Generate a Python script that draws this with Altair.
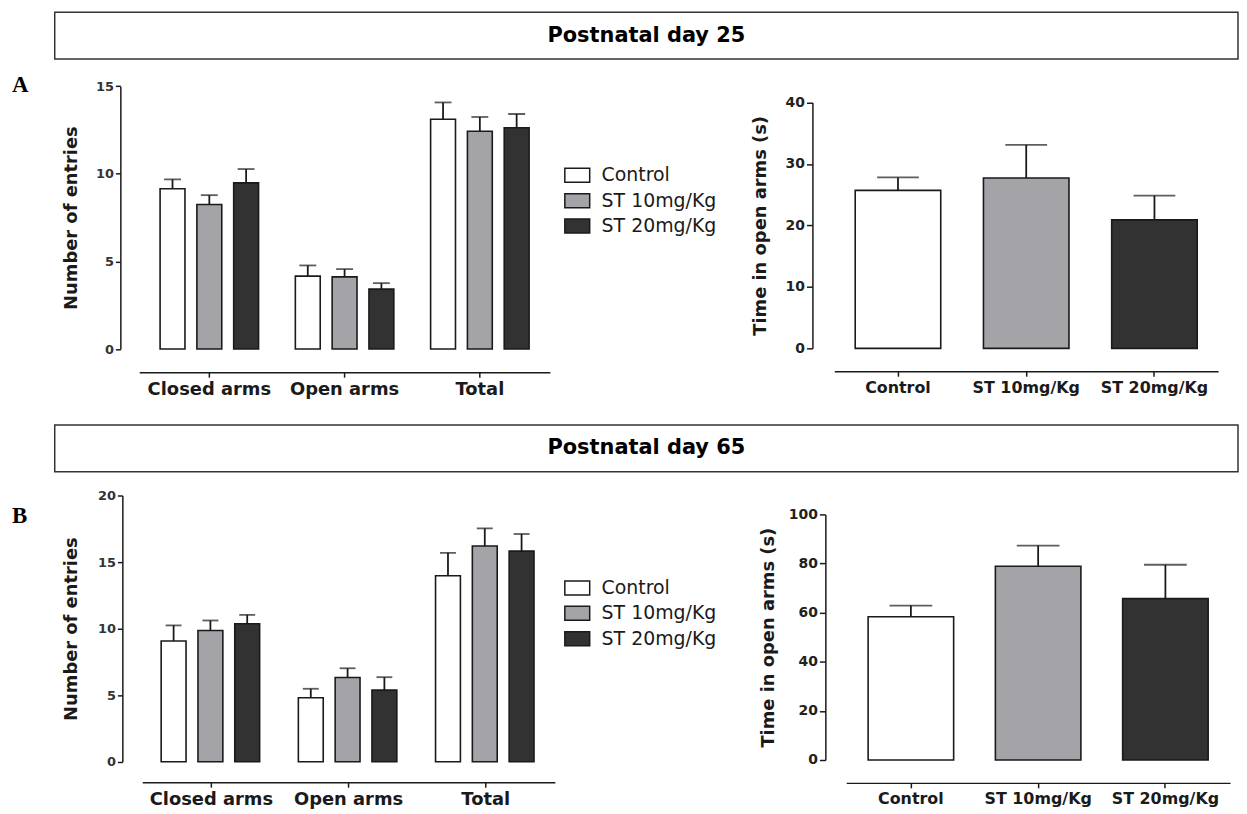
import altair as alt
import pandas as pd

# ---------------- data ----------------
measures = ["Closed arms", "Open arms", "Total"]
groups = ["Control", "ST 10mg/Kg", "ST 20mg/Kg"]
group_colors = ["#ffffff", "#a3a3a8", "#323232"]

titles = ["Postnatal day 25", "Postnatal day 65"]
panels = ["A", "B"]

# number of entries (mean, SEM), order: measure-major, group-minor
p25_entries_mean = [9.15, 8.25, 9.48, 4.16, 4.12, 3.42, 13.11, 12.43, 12.63]
p25_entries_sem = [0.53, 0.53, 0.79, 0.61, 0.44, 0.34, 0.96, 0.81, 0.78]
p65_entries_mean = [9.07, 9.86, 10.36, 4.81, 6.33, 5.38, 13.97, 16.21, 15.82]
p65_entries_sem = [1.17, 0.75, 0.67, 0.67, 0.69, 0.97, 1.72, 1.32, 1.29]

# time in open arms (mean, SEM)
p25_time_mean = [25.7, 27.7, 20.9]
p25_time_sem = [2.1, 5.4, 3.95]
p65_time_mean = [58.3, 78.9, 65.7]
p65_time_sem = [4.6, 8.4, 13.8]

p25_entries_ticks = [0, 5, 10, 15]
p25_time_ticks = [0, 10, 20, 30, 40]
p65_entries_ticks = [0, 5, 10, 15, 20]
p65_time_ticks = [0, 20, 40, 60, 80, 100]

SANS = "DejaVu Sans"
SERIF = "Liberation Serif"
INK = "#1a1a1a"


def entries_df(means, sems):
    rows = []
    i = 0
    for m in measures:
        for g in groups:
            rows.append({"measure": m, "group": g, "mean": means[i], "upper": means[i] + sems[i]})
            i += 1
    return pd.DataFrame(rows)


def time_df(means, sems):
    return pd.DataFrame({"group": groups, "mean": means,
                         "upper": [m + s for m, s in zip(means, sems)]})


def fill_enc():
    return alt.Fill("group:N", sort=groups,
                    scale=alt.Scale(domain=groups, range=group_colors), legend=None)


def header_layers(title, y0, y1, panel, panel_y):
    df = pd.DataFrame({"title": [title], "panel": [panel]})
    box = alt.Chart(df).mark_rect(fill="white", stroke="#333", strokeWidth=1.5).encode(
        x=alt.value(47), x2=alt.value(1237), y=alt.value(y0), y2=alt.value(y1))
    txt = alt.Chart(df).mark_text(align="center", baseline="middle", font=SANS,
                                  fontSize=21, fontWeight="bold", color="#000").encode(
        x=alt.value(642), y=alt.value((y0 + y1) / 2), text="title:N")
    lab = alt.Chart(df).mark_text(
        align="left", baseline="middle", font=SERIF, fontSize=23,
        fontWeight="bold", color="#000").encode(
        x=alt.value(4), y=alt.value(panel_y), text="panel:N")
    return [box, txt, lab]


def entries_chart(means, sems, ticks, x_range, pin, pout, sub_pin, y_range,
                  y_off, x_off, title_x, width, height, cap, header):
    df = entries_df(means, sems)
    yaxis = alt.Axis(values=ticks, title="Number of entries", format="d",
                     offset=y_off, titleX=title_x, titleBaseline="middle",
                     titleFontSize=18, titleFontWeight="bold", titleColor=INK,
                     labelFontSize=13, labelFontWeight="bold", labelColor="#333",
                     labelPadding=2, tickSize=5)
    yscale = alt.Scale(domain=[0, ticks[-1]], range=y_range, nice=False)
    base = alt.Chart(df).encode(
        x=alt.X("measure:N", sort=measures,
                scale=alt.Scale(range=x_range, paddingInner=pin, paddingOuter=pout),
                axis=alt.Axis(title=None, labelAngle=0, offset=x_off, tickSize=5,
                              labelFontSize=18, labelFontWeight="bold",
                              labelColor=INK, labelPadding=3)),
        xOffset=alt.XOffset("group:N", sort=groups,
                            scale=alt.Scale(paddingInner=sub_pin, paddingOuter=0)),
    )
    bars = base.mark_bar(stroke=INK, strokeWidth=1.6).encode(
        y=alt.Y("mean:Q", scale=yscale, axis=yaxis), fill=fill_enc())
    err = base.mark_rule(color=INK, strokeWidth=1.8).encode(
        y=alt.Y("mean:Q", scale=yscale, axis=yaxis), y2="upper:Q")
    caps = base.mark_tick(color=INK, size=cap, thickness=1.8).encode(
        y=alt.Y("upper:Q", scale=yscale, axis=yaxis))
    return alt.layer(*header, bars, err, caps).properties(width=width, height=height)


def time_chart(means, sems, ticks, x_range, pin, pout, y_range, y_off, x_off,
               title_x, width, height, cap):
    df = time_df(means, sems)
    yaxis = alt.Axis(values=ticks, title="Time in open arms (s)", format="d",
                     offset=y_off, titleX=title_x, titleBaseline="middle",
                     titleFontSize=18, titleFontWeight="bold", titleColor=INK,
                     labelFontSize=14, labelFontWeight="bold", labelColor="#222",
                     labelPadding=2, tickSize=6)
    yscale = alt.Scale(domain=[0, ticks[-1]], range=y_range, nice=False)
    base = alt.Chart(df).encode(
        x=alt.X("group:N", sort=groups,
                scale=alt.Scale(range=x_range, paddingInner=pin, paddingOuter=pout),
                axis=alt.Axis(title=None, labelAngle=0, offset=x_off, tickSize=5,
                              labelFontSize=16, labelFontWeight="bold",
                              labelColor=INK, labelPadding=3)),
    )
    bars = base.mark_bar(stroke=INK, strokeWidth=1.6).encode(
        y=alt.Y("mean:Q", scale=yscale, axis=yaxis), fill=fill_enc())
    err = base.mark_rule(color=INK, strokeWidth=1.8).encode(
        y=alt.Y("mean:Q", scale=yscale, axis=yaxis), y2="upper:Q")
    caps = base.mark_tick(color=INK, size=cap, thickness=1.8).encode(
        y=alt.Y("upper:Q", scale=yscale, axis=yaxis))
    return alt.layer(bars, err, caps).properties(width=width, height=height)


def legend_chart(y_range, width, height):
    df = pd.DataFrame({"group": groups})
    yenc = alt.Y("group:N", sort=groups, axis=None,
                 scale=alt.Scale(range=y_range, paddingInner=0.45, paddingOuter=0.5))
    boxes = alt.Chart(df).mark_rect(stroke=INK, strokeWidth=1.5).encode(
        x=alt.value(5), x2=alt.value(30), y=yenc, fill=fill_enc())
    texts = alt.Chart(df).mark_text(align="left", baseline="middle", font=SANS,
                                    fontSize=19, color=INK).encode(
        x=alt.value(42), y=yenc, text="group:N")
    return alt.layer(boxes, texts).properties(width=width, height=height)


# ---------------- layout (row 1: page y 8..420, row 2: page y 420..806) ----------------
H1, H2 = 412, 386

l1 = entries_chart(p25_entries_mean, p25_entries_sem, p25_entries_ticks,
                   [132, 545], 0.272, 0.154, 0.324, [340.7, 76.3],
                   -113, -48, -49, 555, H1, 17,
                   header_layers(titles[0], 2, 49, panels[0], 75))
g1 = legend_chart([146.25, 236.75], 200, H1)
r1 = time_chart(p25_time_mean, p25_time_sem, p25_time_ticks,
                [76, 462], 0.333, 0.163, [340, 92.7], -54, -49, -52, 482, H1, 42)

l2 = entries_chart(p65_entries_mean, p65_entries_sem, p65_entries_ticks,
                   [135, 550], 0.268, 0.138, 0.307, [343.7, 76],
                   -115, -21.7, -51, 555, H2, 16,
                   header_layers(titles[1], 5, 52, panels[1], 97))
g2 = legend_chart([149.25, 239.75], 200, H2)
r2 = time_chart(p65_time_mean, p65_time_sem, p65_time_ticks,
                [88, 474], 0.328, 0.172, [342, 95], -67, -21, -57, 482, H2, 43)

chart = alt.concat(l1, g1, r1, l2, g2, r2, columns=3, spacing=0, bounds="flush").properties(
    padding=0, background="white"
).configure_view(stroke=None).configure_axis(
    grid=False, domainColor=INK, tickColor=INK, domainWidth=1.5, tickWidth=1.5,
    labelFont=SANS, titleFont=SANS
)

chart.save("out.html", embed_options={"renderer": "svg", "actions": False})
